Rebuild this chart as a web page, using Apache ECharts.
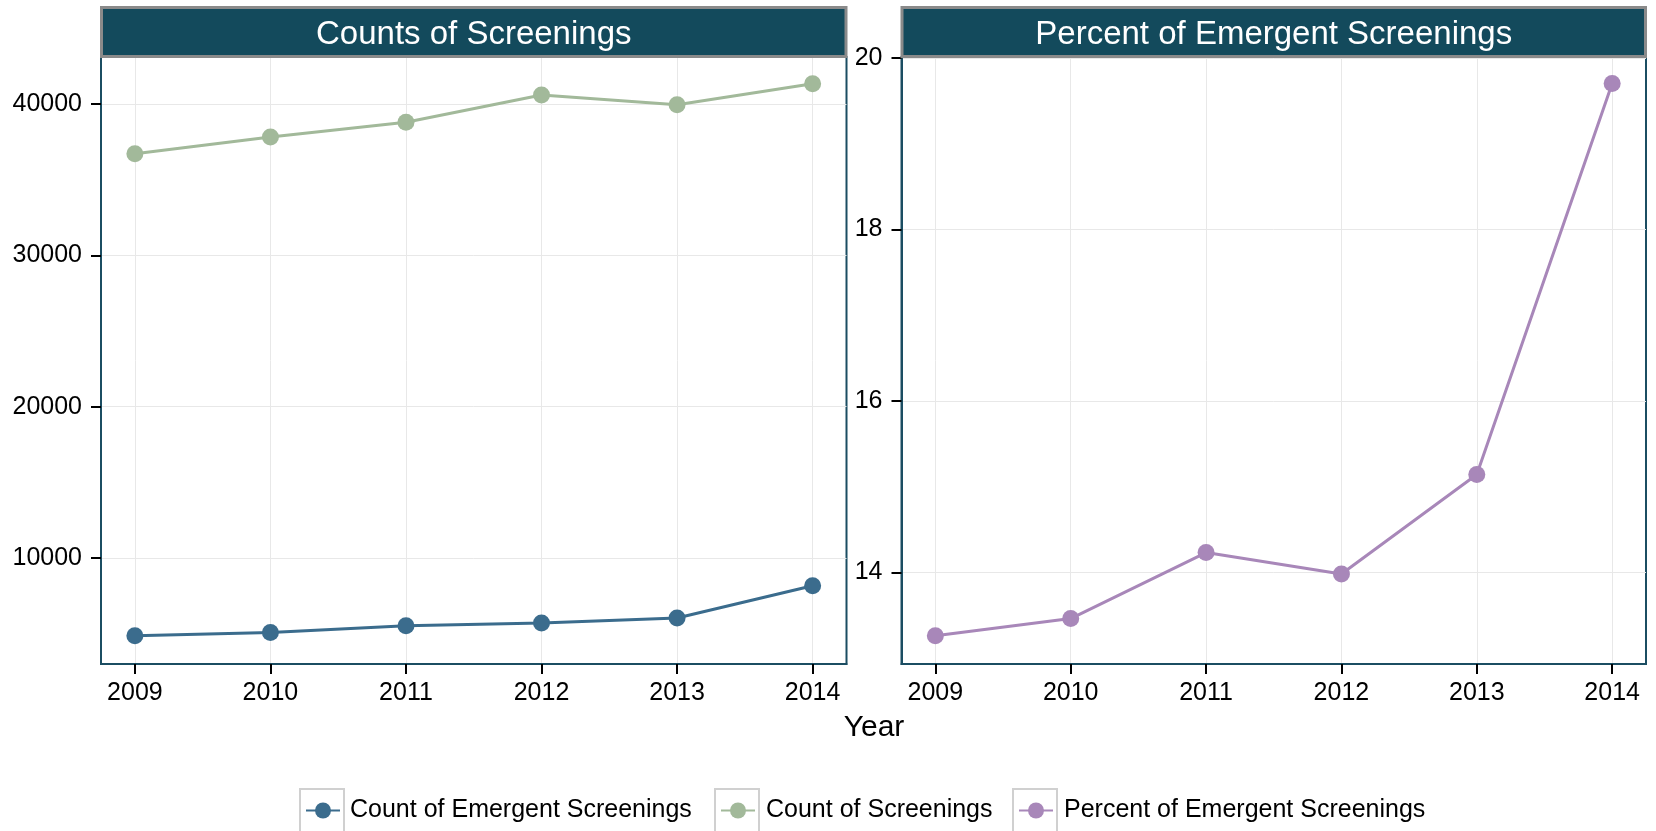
<!DOCTYPE html>
<html>
<head>
<meta charset="utf-8">
<script src="https://cdn.jsdelivr.net/npm/echarts@6/dist/echarts.min.js"></script>
<style>
  html, body { margin: 0; padding: 0; background: #fff; }
  #chart { width: 1656px; height: 831px; }
</style>
</head>
<body>
<div id="chart"></div>
<script>
// data
const years = [2009, 2010, 2011, 2012, 2013, 2014];
const emergentCounts = [4866, 5084, 5526, 5705, 6035, 8170];
const screeningCounts = [36716, 37819, 38791, 40595, 39954, 41341];
const emergentPercent = [13.26, 13.46, 14.23, 13.98, 15.14, 19.70];
const countTicks = [10000, 20000, 30000, 40000];
const percentTicks = [14, 16, 18, 20];
const panelTitles = ['Counts of Screenings', 'Percent of Emergent Screenings'];
const seriesNames = ['Count of Emergent Screenings', 'Count of Screenings', 'Percent of Emergent Screenings'];

const font = "'Liberation Sans', Arial, sans-serif";
const teal = '#1b4d62';
const barFill = '#134a5c';
const colors = ['#3b6c8d', '#a2b99a', '#a887b9'];

const pairs = vals => years.map((y, i) => [y, vals[i]]);

const xAxisFor = gridIndex => ({
  type: 'value', gridIndex, min: 2008.75, max: 2014.25,
  axisLine: { show: true, onZero: false, lineStyle: { color: teal, width: 2 } },
  axisTick: { show: true, customValues: years, length: 10, lineStyle: { color: '#000', width: 2 } },
  axisLabel: { customValues: years, fontSize: 25, color: '#000', margin: 17, fontFamily: font, formatter: v => String(v) },
  splitLine: { show: true, lineStyle: { color: '#e8e8e8', width: 1 } }
});

const yAxisFor = (gridIndex, min, max, ticks) => ({
  type: 'value', gridIndex, min, max,
  axisLine: { show: true, onZero: false, lineStyle: { color: teal, width: 2 } },
  axisTick: { show: true, customValues: ticks, length: 10, lineStyle: { color: '#000', width: 2 } },
  axisLabel: { customValues: ticks, fontSize: 25, color: '#000', margin: 19, fontFamily: font, formatter: v => String(v) },
  splitLine: { show: true, lineStyle: { color: '#e8e8e8', width: 1 } }
});

const lineSeries = (name, vals, idx, color) => ({
  name, type: 'line', xAxisIndex: idx, yAxisIndex: idx,
  data: pairs(vals),
  symbol: 'circle', symbolSize: 17,
  itemStyle: { color },
  lineStyle: { color, width: 3 }
});

const legendAt = (name, left, pad) => ({
  data: [name], left, top: 798, padding: 0,
  itemWidth: 34, itemHeight: 20, itemGap: 0,
  textStyle: { fontSize: 25, color: '#000', fontFamily: font, padding: [0, 0, 0, pad] }
});

const panels = [{ x: 101, w: 745.5 }, { x: 901.5, w: 744.5 }];

const graphics = [];
panels.forEach((p, i) => {
  graphics.push({
    type: 'rect', z: 100,
    shape: { x: p.x + 0.5, y: 7.5, width: p.w - 1, height: 49 },
    style: { fill: barFill, stroke: '#8a8a8a', lineWidth: 3 }
  });
  graphics.push({
    type: 'text', z: 101, x: p.x + p.w / 2, y: 35,
    style: { text: panelTitles[i], fill: '#fff', fontSize: 33, fontFamily: font, textAlign: 'center', textVerticalAlign: 'middle' }
  });
});
[300, 715, 1013].forEach(x => {
  graphics.push({
    type: 'rect', z: 1,
    shape: { x, y: 789, width: 44, height: 46 },
    style: { fill: 'none', stroke: '#d0d0d0', lineWidth: 2 }
  });
});
graphics.push({
  type: 'text', x: 874, y: 728,
  style: { text: 'Year', fill: '#000', fontSize: 30, fontFamily: font, textAlign: 'center', textVerticalAlign: 'middle' }
});

const option = {
  animation: false,
  backgroundColor: '#fff',
  grid: [
    { left: 101, right: 1656 - 846.5, top: 57, bottom: 167, show: true, borderColor: teal, borderWidth: 2 },
    { left: 901.5, right: 10, top: 57, bottom: 167, show: true, borderColor: teal, borderWidth: 2 }
  ],
  xAxis: [xAxisFor(0), xAxisFor(1)],
  yAxis: [
    yAxisFor(0, 2995, 43105, countTicks),
    yAxisFor(1, 12.93, 20.01, percentTicks)
  ],
  legend: [
    legendAt(seriesNames[0], 305, 5),
    legendAt(seriesNames[1], 720, 6),
    legendAt(seriesNames[2], 1018, 6)
  ],
  graphic: graphics,
  series: [
    lineSeries(seriesNames[0], emergentCounts, 0, colors[0]),
    lineSeries(seriesNames[1], screeningCounts, 0, colors[1]),
    lineSeries(seriesNames[2], emergentPercent, 1, colors[2])
  ]
};

const myChart = echarts.init(document.getElementById('chart'));
myChart.setOption(option);
</script>
</body>
</html>
